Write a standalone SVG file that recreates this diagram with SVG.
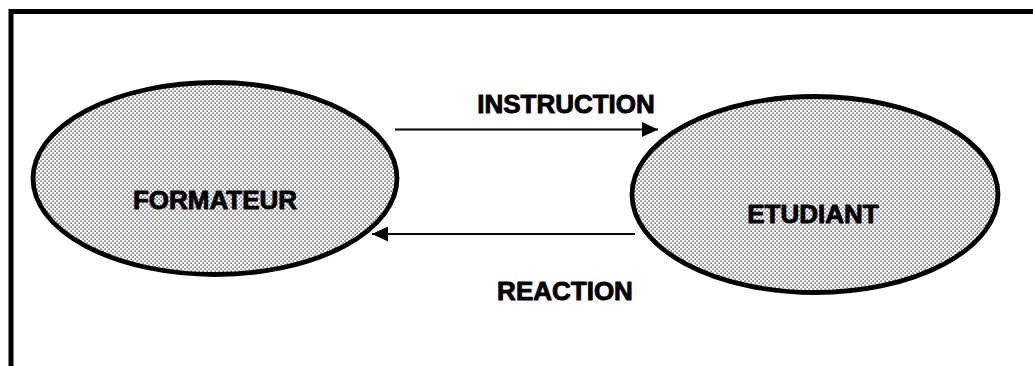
<svg xmlns="http://www.w3.org/2000/svg" width="1033" height="366" viewBox="0 0 1033 366">
<style>
.node{fill:url(#dots);stroke:#000;stroke-width:4.8}
.lbl{font-family:"Liberation Sans",Arial,sans-serif;font-weight:bold;font-size:26px;fill:#000;stroke:#000;stroke-width:0.9;stroke-linejoin:round;text-anchor:middle}
.conn{stroke:#000;stroke-width:2.2;fill:none;marker-end:url(#arr)}
</style>
<defs>
<pattern id="dots" width="4" height="4" patternUnits="userSpaceOnUse">
<rect width="4" height="4" fill="#fff"/>
<rect x="0.4" y="0.4" width="1.4" height="1.4" fill="#444"/>
<rect x="2.4" y="2.4" width="1.4" height="1.4" fill="#444"/>
</pattern>
<marker id="arr" markerWidth="16" markerHeight="15" refX="16" refY="7.5" orient="auto" markerUnits="userSpaceOnUse">
<path d="M0,0 L16,7.5 L0,15 Z" fill="#000"/>
</marker>
</defs>
<rect width="1033" height="366" fill="#fff"/>
<g id="frame">
<line x1="11" y1="11.5" x2="1033" y2="11.5" stroke="#000" stroke-width="5"/>
<line x1="11" y1="9" x2="11" y2="366" stroke="#000" stroke-width="5"/>
</g>
<g id="formateur">
<ellipse class="node" cx="215" cy="178.5" rx="182" ry="96"/>
<text class="lbl" x="215" y="209">FORMATEUR</text>
</g>
<g id="etudiant">
<ellipse class="node" cx="815" cy="194.5" rx="183" ry="98"/>
<text class="lbl" x="813" y="223">ETUDIANT</text>
</g>
<g id="connectors">
<line class="conn" x1="395" y1="129.5" x2="658" y2="129.5"/>
<text class="lbl" x="566" y="113">INSTRUCTION</text>
<line class="conn" x1="635" y1="234" x2="372" y2="234"/>
<text class="lbl" x="565" y="300">REACTION</text>
</g>
</svg>
